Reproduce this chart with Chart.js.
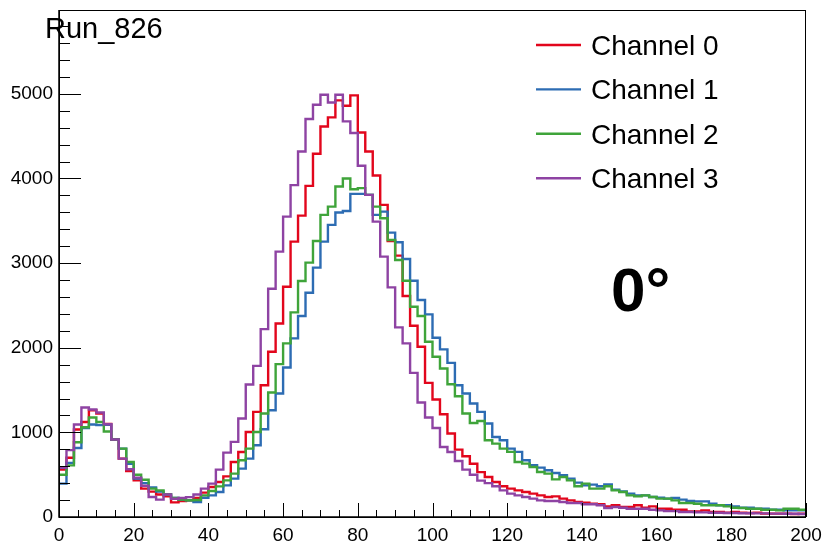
<!DOCTYPE html>
<html>
<head>
<meta charset="utf-8">
<script src="https://cdn.jsdelivr.net/npm/chart.js@4.4.1/dist/chart.umd.min.js"></script>
<style>
  html, body { margin: 0; padding: 0; background: #fff; }
  #wrap { width: 824px; height: 546px; }
</style>
</head>
<body>
<div id="wrap"><canvas id="myChart" width="824" height="546"></canvas></div>
<script>
// histogram binning: 100 bins of width 2 from 0 to 200
const binLow = 0;
const binWidth = 2;
const runTitle = 'Run_826';
const angleLabel = '0\u00b0';
const channelNames = ['Channel 0', 'Channel 1', 'Channel 2', 'Channel 3'];
const channelColors = ['#e2061c', '#2d6cb3', '#3fa43a', '#8e43a3'];

const channel0 = [
  560, 700, 1033, 1123, 1262, 1222, 1100, 915, 690, 543,
  433, 335, 300, 265, 245, 173, 189, 197, 225, 288,
  354, 413, 480, 650, 768, 1005, 1242, 1557, 1952, 2287,
  2721, 3253, 3561, 3912, 4291, 4614, 4721, 4922, 4859, 4981,
  4543, 4318, 4034, 3688, 3261, 3088, 2611, 2259, 2011, 1585,
  1388, 1214, 986, 796, 717, 630, 530, 473, 414, 363,
  335, 315, 295, 276, 256, 236, 244, 217, 197, 177,
  169, 157, 150, 126, 138, 118, 118, 138, 110, 126,
  98, 98, 86, 86, 67, 67, 78, 59, 59, 51,
  59, 51, 47, 51, 40, 40, 40, 40, 36, 40
];
const channel1 = [
  394, 640, 816, 1052, 1092, 1085, 1090, 915, 808, 630,
  455, 400, 350, 300, 265, 225, 205, 197, 177, 228,
  256, 295, 374, 453, 571, 690, 847, 1037, 1262, 1459,
  1767, 2110, 2374, 2650, 2946, 3253, 3451, 3597, 3616, 3818,
  3818, 3806, 3569, 3608, 3360, 3246, 3049, 2792, 2563, 2394,
  2117, 1980, 1821, 1557, 1459, 1341, 1242, 1104, 946, 907,
  808, 769, 670, 611, 583, 552, 520, 493, 453, 406,
  374, 382, 363, 386, 323, 303, 276, 256, 256, 236,
  228, 217, 224, 205, 190, 185, 185, 157, 138, 138,
  126, 110, 110, 98, 98, 86, 86, 78, 78, 78
];
const channel2 = [
  500, 610, 883, 1060, 1175, 1123, 1010, 915, 808, 650,
  500, 440, 335, 315, 265, 225, 205, 197, 200, 256,
  307, 362, 433, 512, 670, 808, 1005, 1222, 1471, 1806,
  2051, 2418, 2788, 3005, 3261, 3569, 3667, 3904, 3999, 3873,
  3885, 3806, 3667, 3530, 3273, 3037, 2792, 2484, 2374, 2070,
  1893, 1755, 1569, 1427, 1222, 1111, 1135, 907, 867, 808,
  769, 650, 631, 591, 532, 512, 445, 473, 433, 363,
  394, 335, 335, 363, 315, 295, 256, 244, 256, 236,
  217, 217, 197, 165, 165, 157, 138, 138, 138, 126,
  110, 106, 98, 98, 86, 86, 78, 98, 98, 86
];
const channel3 = [
  580, 790, 1092, 1293, 1270, 1234, 1096, 915, 690, 565,
  465, 370, 236, 205, 265, 215, 225, 235, 265, 335,
  394, 560, 761, 887, 1163, 1566, 1786, 2220, 2697, 3135,
  3549, 3921, 4318, 4702, 4871, 4989, 4898, 4989, 4674, 4536,
  4149, 3806, 3490, 3076, 2713, 2240, 2051, 1703, 1353, 1175,
  1052, 827, 768, 662, 560, 500, 430, 400, 363, 315,
  276, 256, 236, 217, 197, 189, 189, 177, 165, 165,
  150, 150, 138, 106, 118, 110, 98, 98, 98, 86,
  78, 70, 70, 59, 59, 55, 55, 50, 50, 47,
  47, 45, 45, 43, 43, 40, 40, 38, 38, 36
];
const channelValues = [channel0, channel1, channel2, channel3];

const xTickLabels = [0, 20, 40, 60, 80, 100, 120, 140, 160, 180, 200];
const yTickLabels = [0, 1000, 2000, 3000, 4000, 5000];
const xMax = 200;
const yMax = 5990;

const fontFamily = '"Liberation Sans", Arial, Helvetica, sans-serif';

// step points: left edge of each bin, plus the upper edge of the last bin
function toSteps(values) {
  const pts = values.map((v, i) => ({ x: binLow + i * binWidth, y: v }));
  pts.push({ x: binLow + values.length * binWidth, y: values[values.length - 1] });
  return pts;
}

// keep the plot frame exactly where the layout padding puts it
function noScalePadding(s) {
  s.paddingLeft = 0;
  s.paddingRight = 0;
  s.paddingTop = 0;
  s.paddingBottom = 0;
}

const rootStyle = {
  id: 'rootStyle',
  afterDatasetsDraw(chart) {
    const ctx = chart.ctx;
    const a = chart.chartArea;
    const xs = chart.scales.x, ys = chart.scales.y;
    ctx.save();
    ctx.strokeStyle = '#000';
    // frame
    ctx.lineWidth = 1;
    ctx.strokeRect(a.left + 0.5, a.top + 0.5, a.right - a.left - 1, a.bottom - a.top);
    // axis lines
    ctx.lineWidth = 1.5;
    ctx.beginPath();
    ctx.moveTo(a.left, a.top);
    ctx.lineTo(a.left, a.bottom);
    ctx.lineTo(a.right, a.bottom);
    ctx.stroke();
    // ticks inside the frame
    ctx.lineWidth = 1;
    ctx.beginPath();
    for (let v = 0; v <= yMax; v += 200) {
      const y = Math.round(ys.getPixelForValue(v)) + 0.5;
      const len = v % 1000 === 0 ? 22 : 11;
      ctx.moveTo(a.left, y);
      ctx.lineTo(a.left + len, y);
    }
    for (let v = 0; v <= xMax; v += 5) {
      const x = Math.round(xs.getPixelForValue(v)) + 0.5;
      const len = v % 20 === 0 ? 14 : 7;
      ctx.moveTo(x, a.bottom);
      ctx.lineTo(x, a.bottom - len);
    }
    ctx.stroke();
    ctx.restore();
  },
  afterDraw(chart) {
    const ctx = chart.ctx;
    ctx.save();
    ctx.fillStyle = '#000';
    ctx.textAlign = 'left';
    ctx.textBaseline = 'alphabetic';
    ctx.font = '29px ' + fontFamily;
    ctx.fillText(runTitle, 45, 38);
    // legend
    ctx.font = '28px ' + fontFamily;
    chart.data.datasets.forEach((ds, i) => {
      const cy = 45 + i * 44.4;
      ctx.strokeStyle = ds.borderColor;
      ctx.lineWidth = 2.4;
      ctx.beginPath();
      ctx.moveTo(536, cy);
      ctx.lineTo(581, cy);
      ctx.stroke();
      ctx.fillStyle = '#000';
      ctx.fillText(ds.label, 591, cy + 10);
    });
    ctx.font = 'bold 62px ' + fontFamily;
    ctx.fillText(angleLabel, 611, 311);
    ctx.restore();
  }
};

const ctx = document.getElementById('myChart').getContext('2d');
const myChart = new Chart(ctx, {
  type: 'line',
  data: {
    datasets: channelValues.map((vals, i) => ({
      label: channelNames[i],
      data: toSteps(vals),
      borderColor: channelColors[i],
      backgroundColor: channelColors[i],
      borderWidth: 2.4,
      stepped: 'before',
      pointRadius: 0,
      fill: false,
      order: channelValues.length - 1 - i
    }))
  },
  options: {
    responsive: false,
    animation: false,
    devicePixelRatio: 1,
    layout: { padding: { top: 10, right: 18, left: 0, bottom: 0 } },
    plugins: {
      legend: { display: false },
      title: { display: false },
      tooltip: { enabled: false }
    },
    scales: {
      x: {
        type: 'linear',
        min: binLow,
        max: xMax,
        grid: { display: false, drawTicks: false },
        border: { display: false },
        afterBuildTicks: s => { s.ticks = xTickLabels.map(v => ({ value: v })); },
        afterFit: s => { s.height = 29; noScalePadding(s); },
        ticks: {
          padding: 7,
          maxRotation: 0,
          autoSkip: false,
          color: '#000',
          font: { family: fontFamily, size: 19 },
          callback: v => String(v)
        }
      },
      y: {
        type: 'linear',
        min: 0,
        max: yMax,
        grid: { display: false, drawTicks: false },
        border: { display: false },
        afterBuildTicks: s => { s.ticks = yTickLabels.map(v => ({ value: v })); },
        afterFit: s => { s.width = 59; noScalePadding(s); },
        ticks: {
          padding: 6,
          color: '#000',
          font: { family: fontFamily, size: 19 },
          callback: v => String(v)
        }
      }
    }
  },
  plugins: [rootStyle]
});
</script>
</body>
</html>
